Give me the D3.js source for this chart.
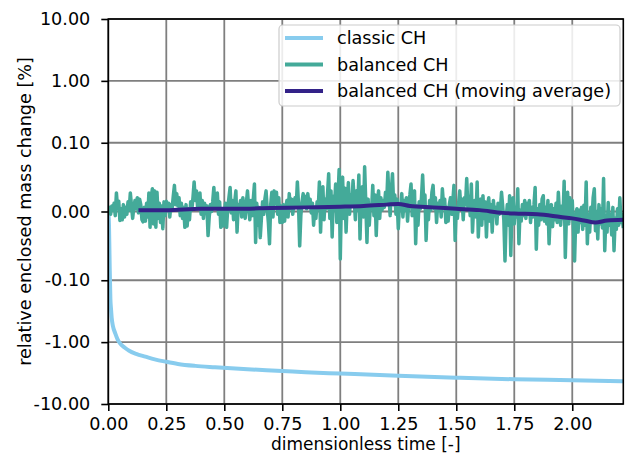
<!DOCTYPE html>
<html>
<head>
<meta charset="utf-8">
<script src="https://cdn.jsdelivr.net/npm/d3@7"></script>
<style>
  body { margin: 0; background: #fff; }
  svg { display: block; }
  text { font-family: "DejaVu Sans", sans-serif; }
</style>
</head>
<body>
<script>
// ---- data ----
const classicT = [0, 0.003, 0.006, 0.009, 0.012, 0.015, 0.02, 0.03, 0.04, 0.05, 0.07, 0.09, 0.12, 0.16, 0.2, 0.25, 0.3, 0.375, 0.46, 0.6, 0.75, 0.85, 1.0, 1.25, 1.5, 1.75, 2.0, 2.22];
const classicV = [0, -0.02, -0.08, -0.2, -0.3, -0.42, -0.55, -0.72, -0.9, -1.04, -1.22, -1.38, -1.55, -1.72, -1.9, -2.08, -2.25, -2.42, -2.55, -2.75, -2.92, -3.06, -3.22, -3.5, -3.75, -3.98, -4.13, -4.3];

// balanced CH, sampled every 0.005 time units from t = 0
const balancedStep = 0.005;
const balancedV = [
  0.000, 0.006, -0.004, 0.008, 0.002, 0.012, -0.006, 0.027, 0.004, 0.015,
  -0.013, 0.004, -0.012, 0.010, -0.008, 0.006, -0.004, 0.014, 0.002, 0.027,
  0.008, -0.010, 0.006, 0.016, 0.004, 0.020, -0.002, 0.018, 0.010, -0.012,
  -0.015, 0.006, -0.014, 0.012, -0.008, 0.027, -0.023, 0.020, 0.033, -0.018,
  0.030, -0.023, 0.028, -0.010, 0.012, -0.016, 0.008, -0.025, 0.014, -0.006,
  0.015, 0.002, 0.012, -0.008, 0.010, 0.004, 0.022, 0.038, 0.010, 0.026,
  0.008, 0.020, -0.006, 0.012, -0.010, 0.006, -0.023, 0.010, -0.021, 0.004,
  -0.012, 0.014, 0.002, 0.020, 0.043, 0.016, 0.030, 0.006, 0.012, 0.027,
  -0.004, 0.016, -0.010, 0.012, 0.002, 0.008, -0.035, -0.008, 0.010, 0.000,
  0.014, 0.035, 0.006, 0.010, 0.027, -0.004, 0.014, -0.023, 0.004, -0.021,
  -0.006, 0.012, -0.023, 0.006, 0.020, 0.035, -0.002, 0.016, -0.012, 0.014,
  0.030, -0.030, 0.010, 0.004, 0.016, -0.008, 0.020, 0.002, -0.010, 0.012,
  0.030, 0.006, -0.012, 0.016, -0.006, 0.018, 0.040, -0.045, 0.012, -0.020,
  0.006, -0.038, -0.010, 0.014, -0.004, 0.018, 0.030, 0.004, -0.016, -0.047,
  0.010, 0.028, -0.008, 0.030, 0.012, 0.028, -0.004, 0.020, -0.016, 0.008,
  -0.016, 0.010, -0.014, 0.006, 0.016, -0.008, 0.026, 0.004, 0.018, -0.004,
  0.012, 0.020, 0.006, 0.043, 0.010, -0.050, -0.006, 0.014, 0.026, 0.008,
  0.022, 0.004, 0.026, 0.010, 0.018, -0.002, 0.012, -0.020, 0.006, -0.010,
  0.014, 0.004, 0.043, -0.030, 0.020, 0.036, -0.012, 0.018, 0.004, 0.026,
  0.055, -0.010, 0.030, -0.037, 0.022, 0.008, 0.040, -0.016, 0.018, 0.061,
  -0.069, 0.020, 0.050, -0.010, 0.034, -0.030, 0.016, 0.042, -0.004, 0.024,
  0.010, 0.045, 0.018, -0.012, 0.030, 0.002, 0.053, -0.040, 0.020, 0.036,
  -0.008, 0.065, 0.012, -0.045, 0.018, -0.020, 0.010, 0.004, 0.038, -0.006,
  0.024, -0.035, 0.012, 0.030, -0.010, 0.020, 0.002, 0.016, 0.006, 0.028,
  0.012, 0.057, 0.020, -0.006, 0.030, 0.055, 0.010, 0.024, -0.004, 0.018,
  -0.025, 0.010, 0.004, 0.026, -0.008, 0.016, 0.002, 0.020, -0.014, 0.012,
  0.024, 0.040, -0.006, 0.018, 0.030, -0.047, 0.008, -0.020, 0.014, 0.004,
  0.020, 0.053, 0.010, 0.024, -0.042, 0.006, -0.012, 0.016, 0.002, 0.028,
  0.038, 0.004, 0.020, -0.016, 0.012, 0.002, 0.016, -0.008, 0.033, 0.010,
  0.018, -0.016, 0.006, -0.014, 0.010, 0.020, -0.004, 0.014, 0.038, -0.042,
  0.006, -0.010, 0.012, 0.030, 0.004, 0.018, -0.012, 0.020, 0.010, 0.048,
  0.006, 0.022, -0.006, 0.040, -0.030, 0.010, 0.016, -0.008, 0.043, -0.037,
  0.004, 0.018, -0.020, 0.023, -0.010, 0.014, -0.037, 0.008, 0.020, -0.014,
  0.010, -0.030, 0.016, -0.006, 0.006, -0.018, 0.012, -0.004, 0.002, 0.028,
  0.008, -0.012, -0.072, -0.010, 0.010, -0.020, 0.023, -0.064, 0.004, 0.020,
  -0.018, 0.006, -0.008, 0.033, -0.047, 0.002, -0.014, 0.010, -0.006, 0.016,
  -0.010, 0.012, -0.004, 0.016, -0.016, 0.006, -0.008, 0.010, 0.035, -0.055,
  0.004, -0.020, 0.010, -0.012, 0.018, 0.023, -0.014, 0.006, -0.018, 0.016,
  -0.047, -0.006, 0.010, -0.022, 0.004, -0.012, 0.012, -0.016, 0.028, -0.004,
  -0.020, 0.008, -0.010, 0.044, -0.067, -0.004, 0.028, -0.018, 0.020, -0.010,
  0.016, -0.024, -0.072, -0.008, 0.004, -0.030, 0.002, -0.016, 0.006, -0.026,
  0.009, -0.020, 0.043, -0.047, -0.004, -0.030, 0.006, -0.012, 0.020, 0.033,
  -0.028, 0.000, -0.040, 0.010, -0.018, 0.004, -0.024, 0.048, -0.057, -0.006,
  -0.030, 0.013, -0.020, -0.004, -0.034, 0.006, -0.057, -0.010, -0.026, 0.004,
  -0.020, 0.020, -0.016, -0.004, -0.024
];

const avgT = [0.13, 0.25, 0.4, 0.55, 0.7, 0.85, 1.0, 1.1, 1.2, 1.25, 1.3, 1.4, 1.5, 1.6, 1.7, 1.75, 1.85, 1.95, 2.0, 2.05, 2.1, 2.15, 2.22];
const avgV = [0.002, 0.002, 0.004, 0.004, 0.005, 0.006, 0.007, 0.008, 0.010, 0.011, 0.008, 0.006, 0.004, 0.002, -0.002, -0.003, -0.004, -0.008, -0.010, -0.013, -0.016, -0.013, -0.012];

const xTicks = [0, 0.25, 0.5, 0.75, 1.0, 1.25, 1.5, 1.75, 2.0];
const yTicks = [-10, -1, -0.1, 0, 0.1, 1, 10];
const seriesNames = ['classic CH', 'balanced CH', 'balanced CH (moving average)'];
const seriesColors = ['#88CCEE', '#44AA99', '#332288'];

// ---- layout ----
const width = 629, height = 454;
const plotLeft = 108.3, plotRight = 623.3, plotTop = 19, plotBottom = 404;
const fontSize = 17.6;

// symmetric log like matplotlib's symlog (linthresh 0.1, linscale 1)
const linthresh = 0.1, linscale = 1 / (1 - 1 / 10);
function symlog(v) {
  const a = Math.abs(v);
  if (a <= linthresh) return v / linthresh * linscale;
  return Math.sign(v) * (linscale + Math.log10(a / linthresh));
}

const x = d3.scaleLinear().domain([0, 2.22]).range([plotLeft, plotRight]);
const yT = d3.scaleLinear().domain([symlog(-10), symlog(10)]).range([plotBottom, plotTop]);
const y = v => yT(symlog(v));

const svg = d3.select('body').append('svg')
  .attr('width', width)
  .attr('height', height);

svg.append('defs').append('clipPath').attr('id', 'plot')
  .append('rect')
  .attr('x', plotLeft).attr('y', plotTop)
  .attr('width', plotRight - plotLeft).attr('height', plotBottom - plotTop);

// grid
const grid = svg.append('g').attr('stroke', '#7f7f7f').attr('stroke-width', 1.8);
grid.selectAll('line.v').data(xTicks).enter().append('line')
  .attr('x1', d => x(d)).attr('x2', d => x(d))
  .attr('y1', plotTop).attr('y2', plotBottom);
grid.selectAll('line.h').data(yTicks).enter().append('line')
  .attr('x1', plotLeft).attr('x2', plotRight)
  .attr('y1', d => y(d)).attr('y2', d => y(d));

// lines
const plot = svg.append('g').attr('clip-path', 'url(#plot)');

const classic = classicT.map((t, i) => [x(t), y(classicV[i])]);
plot.append('path')
  .attr('d', d3.line().curve(d3.curveMonotoneX)(classic))
  .attr('fill', 'none')
  .attr('stroke', seriesColors[0])
  .attr('stroke-width', 4);

const balanced = balancedV.map((v, i) => [x(i * balancedStep), y(v)]);
plot.append('path')
  .attr('d', d3.line()(balanced))
  .attr('fill', 'none')
  .attr('stroke', seriesColors[1])
  .attr('stroke-width', 3.5)
  .attr('stroke-linejoin', 'round');

const avg = avgT.map((t, i) => [x(t), y(avgV[i])]);
plot.append('path')
  .attr('d', d3.line().curve(d3.curveMonotoneX)(avg))
  .attr('fill', 'none')
  .attr('stroke', seriesColors[2])
  .attr('stroke-width', 4);

// axes
const xAxis = d3.axisBottom(x)
  .tickValues(xTicks)
  .tickFormat(d3.format('.2f'))
  .tickSize(7)
  .tickSizeOuter(0)
  .tickPadding(7);
const gx = svg.append('g').attr('transform', `translate(0,${plotBottom})`).call(xAxis);

const yAxis = d3.axisLeft(yT)
  .tickValues(yTicks.map(symlog))
  .tickFormat((d, i) => yTicks[i].toFixed(2))
  .tickSize(7)
  .tickSizeOuter(0)
  .tickPadding(11);
const gy = svg.append('g').attr('transform', `translate(${plotLeft},0)`).call(yAxis);

[gx, gy].forEach(g => {
  g.select('.domain').remove();
  g.selectAll('line').attr('stroke', '#000').attr('stroke-width', 1.6);
  g.selectAll('text').attr('font-size', fontSize).attr('fill', '#000')
    .style('font-family', '"DejaVu Sans", sans-serif');
});

// spines
svg.append('rect')
  .attr('x', plotLeft).attr('y', plotTop)
  .attr('width', plotRight - plotLeft).attr('height', plotBottom - plotTop)
  .attr('fill', 'none')
  .attr('stroke', '#000')
  .attr('stroke-width', 1.6);

// axis labels
svg.append('text')
  .attr('x', (plotLeft + plotRight) / 2)
  .attr('y', 450)
  .attr('text-anchor', 'middle')
  .attr('font-size', 17)
  .text('dimensionless time [-]');

svg.append('text')
  .attr('transform', `translate(31,${(plotTop + plotBottom) / 2}) rotate(-90)`)
  .attr('text-anchor', 'middle')
  .attr('font-size', fontSize)
  .text('relative enclosed mass change [%]');

// legend
const legend = svg.append('g');
legend.append('rect')
  .attr('x', 279).attr('y', 25)
  .attr('width', 341).attr('height', 81)
  .attr('rx', 4)
  .attr('fill', '#fff')
  .attr('fill-opacity', 0.85)
  .attr('stroke', '#cccccc')
  .attr('stroke-width', 1.2);

const rowY = i => 38 + i * 26.5;
legend.selectAll('line.key').data(seriesNames).enter().append('line')
  .attr('x1', 285).attr('x2', 323)
  .attr('y1', (d, i) => rowY(i)).attr('y2', (d, i) => rowY(i))
  .attr('stroke', (d, i) => seriesColors[i])
  .attr('stroke-width', 4);
legend.selectAll('text.key').data(seriesNames).enter().append('text')
  .attr('x', 337)
  .attr('y', (d, i) => rowY(i))
  .attr('dy', '0.35em')
  .attr('font-size', fontSize)
  .text(d => d);
</script>
</body>
</html>
